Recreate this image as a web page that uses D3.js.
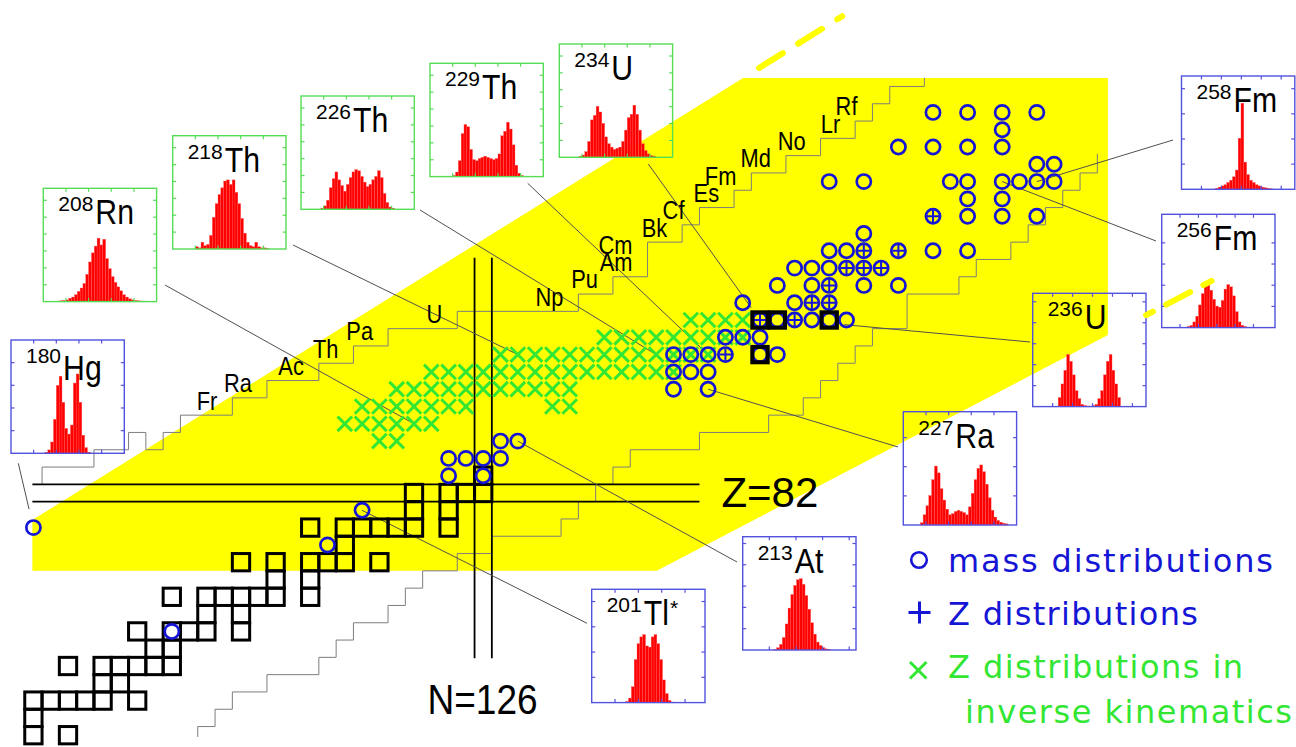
<!DOCTYPE html>
<html><head><meta charset="utf-8">
<script src="https://cdn.jsdelivr.net/npm/d3@7"></script>
<style>body{margin:0;background:#fff}svg{display:block}</style>
</head><body>
<svg id="c" width="1296" height="747"></svg>
<script>
// ================= DATA (N = neutron number, Z = proton number) =================
const stableNuclides = [
 [100,68],[102,68],[100,69],[100,70],[101,70],[102,70],[103,70],[104,70],[106,70],
 [104,71],[105,71],[102,72],[104,72],[105,72],[106,72],[107,72],[108,72],[107,73],[108,73],
 [106,74],[108,74],[109,74],[110,74],[112,74],[110,75],[112,75],
 [108,76],[110,76],[111,76],[112,76],[113,76],[114,76],[116,76],[114,77],[116,77],
 [112,78],[114,78],[116,78],[117,78],[118,78],[120,78],[118,79],
 [116,80],[118,80],[119,80],[120,80],[121,80],[122,80],[124,80],[122,81],[124,81],
 [122,82],[124,82],[125,82],[126,82],[126,83]
];
const longLivedActinides = [[142,92],[143,92],[146,92],[142,90]];
const massDistributions = [
 [100,80],[108,74],[117,79],[119,81],
 [124,83],[124,84],[125,84],[126,84],[126,83],[127,84],[127,85],[128,85],
 [137,88],[139,88],[137,89],[138,89],[139,89],
 [137,90],[138,90],[139,90],[140,90],[142,90],[143,90],
 [140,91],[141,91],[142,91],
 [142,92],[143,92],[144,92],[145,92],[146,92],[147,92],
 [141,93],[144,93],[145,93],[146,93],
 [143,94],[145,94],[146,94],[148,94],[150,94],
 [144,95],[145,95],[146,95],[147,95],[148,95],[149,95],
 [146,96],[147,96],[148,96],[150,96],[152,96],[154,96],
 [148,97],
 [152,98],[154,98],[156,98],[158,98],
 [154,99],[156,99],
 [146,100],[148,100],[153,100],[154,100],[156,100],[157,100],[158,100],[159,100],
 [158,101],[159,101],
 [150,102],[152,102],[154,102],[156,102],
 [156,103],
 [152,104],[154,104],[156,104],[158,104]
];
const zDistributions = [[140,90],[142,92],[144,92],[145,93],[146,93],[146,94],[147,95],[148,95],[149,95],[148,96],[150,96],[152,98]];
// inverse kinematics: [Z, [N ...]]
const inverseKinematicsRows = [
 [85,[120,121]],
 [86,[118,119,120,121,122,123]],
 [87,[119,120,121,122,123,124,125,130,131]],
 [88,[121,122,123,124,125,126,127,128,129,130,131]],
 [89,[123,124,125,126,127,128,129,130,131,132,133,134,135,136,137]],
 [90,[127,128,129,130,131,132,133,134,135,136,137,138,139]],
 [91,[133,134,135,136,137,138,139,140,141]],
 [92,[138,139,140,141]]
];
// limits of known nuclides (cell-edge coordinates)
const protonSideLimit = [[100.5,82.5],[100.5,83.5],[103.5,83.5],[103.5,84.5],[105.5,84.5],[105.5,85.5],[106.5,85.5],[106.5,84.5],[107.5,84.5],[107.5,85.5],[108.5,85.5],[108.5,86.5],[111.5,86.5],[111.5,87.5],[113.5,87.5],[113.5,88.5],[116.5,88.5],[116.5,89.5],[118.5,89.5],[118.5,90.5],[120.5,90.5],[120.5,91.5],[124.5,91.5],[124.5,92.5],[131.5,92.5],[131.5,93.5],[133.5,93.5],[133.5,94.5],[135.5,94.5],[135.5,96.5],[137.5,96.5],[137.5,97.5],[138.5,97.5],[138.5,98.5],[140.5,98.5],[140.5,99.5],[141.5,99.5],[141.5,100.5],[143.5,100.5],[143.5,101.5],[145.5,101.5],[145.5,102.5],[147.5,102.5],[147.5,103.5],[148.5,103.5],[148.5,104.5],[149.5,104.5],[149.5,105.5],[151.5,105.5],[151.5,106]];
const neutronSideLimit = [[109.5,67.9],[109.5,68.5],[110.5,68.5],[110.5,69.5],[111.5,69.5],[111.5,70.5],[113.5,70.5],[113.5,71.5],[116.5,71.5],[116.5,72.5],[117.5,72.5],[117.5,73.5],[118.5,73.5],[118.5,74.5],[120.5,74.5],[120.5,75.5],[121.5,75.5],[121.5,76.5],[122.5,76.5],[122.5,77.5],[124.5,77.5],[124.5,78.5],[126.5,78.5],[126.5,79.5],[130.5,79.5],[130.5,80.5],[131.5,80.5],[131.5,81.5],[132.5,81.5],[132.5,82.5],[133.5,82.5],[133.5,83.5],[134.5,83.5],[134.5,84.5],[138.5,84.5],[138.5,85.5],[142.5,85.5],[142.5,86.5],[144.5,86.5],[144.5,87.5],[145.5,87.5],[145.5,88.5],[146.5,88.5],[146.5,89.5],[147.5,89.5],[147.5,90.5],[148.5,90.5],[148.5,91.5],[150.5,91.5],[150.5,93.5],[153.5,93.5],[153.5,94.5],[154.5,94.5],[154.5,95.5],[156.5,95.5],[156.5,96.5],[157.5,96.5],[157.5,97.5],[158.5,97.5],[158.5,98.5],[159.5,98.5],[159.5,99.5],[160.5,99.5],[160.5,100.5],[161.5,100.5],[161.5,101.6]];
const elementSymbols = ["Fr","Ra","Ac","Th","Pa","U","Np","Pu","Am","Cm","Bk","Cf","Es","Fm","Md","No","Lr","Rf"];
const elementZ       = [87,88,89,90,91,92,93,94,95,96,97,98,99,100,101,102,103,104];
const lightestKnownN = [112,114,117,119,121,125,132,134,136,136,138,139,141,142,144,146,148,149];
// plane of the accessible region (N,Z corners) and its dashed continuation
const planeCorners = [[99.94,80.44],[141.02,105.99],[162.11,105.99],[162.11,91.13],[136.03,77.51],[99.94,77.51]];
const planeExtTop   = [[141.95,106.57],[146.75,109.56]];
const planeExtRight = [[164.32,92.28],[168.1,94.26]];
const magicZ = 82, magicN = 126;
// insets
const insetMass    = ["180","208","218","226","229","234","258","256","236","227","213","201"];
const insetSymbol  = ["Hg","Rn","Th","Th","Th","U","Fm","Fm","U","Ra","At","Tl"];
const insetSuffix  = ["","","","","","","","","","","","*"];
const insetTargetN = [100,122,128,136,139,142,158,156,144,139,128,119];
const insetTargetZ = [80,86,90,90,90,92,100,100,92,88,85,81];
const hist180Hg = [0,0,0,0,0,0,0,0,0,0,0,0,1,3,10,30,60,68,45,22,17,25,62,70,45,16,5,1,0,0,0,0,0,0,0,0,0,0,0,0];
const hist208Rn = [0,0,0,0,0,0.5,0.8,1,1.5,3,4,6,9,12,16,24,35,43,49,56,50,55,38,29,22,17,13,9.5,6,4,2.5,1.5,1,0.7,0.5,0.5,0.3,0,0,0];
const hist218Th = [0,0,0,0,0,0,0,0,2,1,6,3,4,12,28,40,48,54,60,61,57,61,50,40,27,14,6,3,2,6,2,1,1,0.5,0,0,0,0,0,0];
const hist226Th = [0,0,0,0,0,0,0,1,3,8,19,27,33,26,21,16,22,28,33,35,34,29,24,20,22,26,29,34,28,14,6,2,1,0,0,0,0,0,0,0];
const hist229Th = [0,0,0,0,0,0,0,0,1,4,14,38,46,44,24,15,14,16,17,18,17,16,15,16,20,36,40,48,42,28,10,3,1,0,0,0,0,0,0,0];
const hist234U  = [0,0,0,0,0,0,0,1,2,5,14,33,37,45,40,30,18,12,9,7,8,9,14,24,35,38,46,38,24,12,6,3,1.5,1,0,0,0,0,0,0];
const hist258Fm = [0,0,0,0,0,0,0,0,0,0,0,0,1,2,3,4,6,8,11,17,45,76,24,13,8,6,4,3,2,1.5,1,0.5,0,0,0,0,0,0,0,0];
const hist256Fm = [0,0,0,0,0,0,0,0,0,1,2,5,10,20,30,37,38,33,25,19,18,24,34,38,36,28,14,5,2,1,0,0,0,0,0,0,0,0,0,0];
const hist236U  = [0,0,0,0,0,0,0,0,0,8,20,32,46,40,28,14,7,2,1,0.5,0.5,1,2,7,14,28,40,46,32,20,8,0,0,0,0,0,0,0,0,0];
const hist227Ra = [0,0,0,0,0,0,2,9,17,26,40,52,46,32,22,14,9,10,12,13,12,11,9,16,28,40,50,53,47,36,24,13,7,4,2.5,1.5,1,0,0,0];
const hist213At = [0,0,0,0,0,0,0,0,0,0,0,0.5,2,5,11,23,37,49,57,62,63,58,48,36,24,14,7,4,2,1,0.5,0,0,0,0,0,0,0,0,0];
const hist201Tl = [0,0,0,0,0,0,0,0,0,0,0,0,1,4,14,38,52,58,60,50,49,58,60,52,38,20,8,2,0.5,0,0,0,0,0,0,0,0,0,0,0];
const insetHist = [hist180Hg,hist208Rn,hist218Th,hist226Th,hist229Th,hist234U,hist258Fm,hist256Fm,hist236U,hist227Ra,hist213At,hist201Tl];
const legendLabels = ["mass distributions","Z distributions","Z distributions in","inverse kinematics"];

// ================= LAYOUT / STYLE =================
const BLUE='#1515d5', GREEN='#33e633', YELLOW='#ffff00';
const FB='#5252dc', FG='#55dd55';
const S = 113.3;
const insetBox = [
 {x:11,    y:340,   c:FB, xs:.2,   ys:.2,   ny:4, dy:17, ax:18.3, ay:463.3, cut:19},
 {x:43.3,  y:188.3, c:FG, xs:.2,   ys:.149, ny:6, dy:13, ax:165,  ay:285,   cut:0},
 {x:172.7, y:135.7, c:FG, xs:.2,   ys:.149, ny:6, dy:13, ax:293,  ay:245,   cut:0},
 {x:301,   y:96,    c:FG, xs:.2,   ys:.149, ny:6, dy:13, ax:420,  ay:210,   cut:0},
 {x:430,   y:63.3,  c:FG, xs:.2,   ys:.149, ny:6, dy:13, ax:527.7,ay:183.3, cut:0},
 {x:559.3, y:44,    c:FG, xs:.2,   ys:.149, ny:6, dy:13, ax:648.3,ay:164,   cut:15},
 {x:1181.5,y:76,    c:FB, xs:.176, ys:.222, ny:4, dy:13, ax:1173, ay:140,   cut:0},
 {x:1161.7,y:214.3, c:FB, xs:.162, ys:.187, ny:4, dy:13, ax:1156, ay:241,   cut:0},
 {x:1032.7,y:293.3, c:FB, xs:.176, ys:.185, ny:5, dy:13, ax:1030, ay:342,   cut:50},
 {x:903.3, y:411.7, c:FB, xs:.2,   ys:.257, ny:3, dy:13, ax:898,  ay:447,   cut:0},
 {x:742.7, y:536.7, c:FB, xs:.235, ys:.188, ny:5, dy:13, ax:737,  ay:562,   cut:0},
 {x:591.7, y:589.3, c:FB, xs:.206, ys:.223, ny:4, dy:13, ax:587,  ay:623.3, cut:0}
];
const SANS = '"Liberation Sans",Arial,sans-serif';
const NARROW_SCALE = 0.84;

// ================= DRAW =================
const svg = d3.select('#c');
const x = d3.scaleLinear().domain([100,126]).range([33.4,483.2]);
const y = d3.scaleLinear().domain([80,82]).range([527.6,493]);
const cell = x(1)-x(0);
const lineNZ = d3.line().x(d=>x(d[0])).y(d=>y(d[1]));

// plane
svg.append('path').attr('d', lineNZ(planeCorners)+'Z').attr('fill',YELLOW);

// known-nuclide limits
[protonSideLimit, neutronSideLimit].forEach(p=>{
  svg.append('path').attr('d', lineNZ(p)).attr('fill','none').attr('stroke','#7d7d7d').attr('stroke-width',1);
});

// magic lines
const gm = svg.append('g').attr('stroke','#000').attr('stroke-width',1.8);
[magicZ-0.5, magicZ+0.5].forEach(z=>gm.append('line').attr('x1',x(99.94)).attr('x2',x(138.5)).attr('y1',y(z)).attr('y2',y(z)));
[magicN-0.5, magicN+0.5].forEach(n=>gm.append('line').attr('x1',x(n)).attr('x2',x(n)).attr('y1',y(95.6)).attr('y2',y(72.45)));

// connectors
insetBox.forEach((b,i)=>{
  const tx=x(insetTargetN[i]), ty=y(insetTargetZ[i]);
  const dx=tx-b.ax, dy=ty-b.ay, L=Math.hypot(dx,dy), k=(L-b.cut)/L;
  svg.append('line').attr('x1',b.ax).attr('y1',b.ay).attr('x2',b.ax+dx*k).attr('y2',b.ay+dy*k)
     .attr('stroke','#505050').attr('stroke-width',1);
});

// stable nuclides
svg.append('g').selectAll('rect').data(stableNuclides).join('rect')
  .attr('x',d=>x(d[0])-cell/2).attr('y',d=>y(d[1])-cell/2)
  .attr('width',cell).attr('height',cell)
  .attr('fill','none').attr('stroke','#000').attr('stroke-width',3);

// inverse kinematics crosses
const ik = inverseKinematicsRows.flatMap(r=>r[1].map(n=>[n,r[0]]));
const cr = 7.3;
svg.append('g').selectAll('path').data(ik).join('path')
  .attr('d',d=>{const cx=x(d[0]),cy=y(d[1]);return `M${cx-cr},${cy-cr}L${cx+cr},${cy+cr}M${cx-cr},${cy+cr}L${cx+cr},${cy-cr}`;})
  .attr('stroke',GREEN).attr('stroke-width',3).attr('fill','none');

// mass distributions
svg.append('g').selectAll('circle').data(massDistributions).join('circle')
  .attr('cx',d=>x(d[0])).attr('cy',d=>y(d[1])).attr('r',7.1)
  .attr('fill','none').attr('stroke',BLUE).attr('stroke-width',2.7);

// Z distributions
const pr = 6;
svg.append('g').selectAll('path').data(zDistributions).join('path')
  .attr('d',d=>{const cx=x(d[0]),cy=y(d[1]);return `M${cx-pr},${cy}L${cx+pr},${cy}M${cx},${cy-pr}L${cx},${cy+pr}`;})
  .attr('stroke',BLUE).attr('stroke-width',2).attr('fill','none');

// long-lived actinides
svg.append('g').selectAll('rect').data(longLivedActinides).join('rect')
  .attr('x',d=>x(d[0])-7.7).attr('y',d=>y(d[1])-7.7).attr('width',15.4).attr('height',15.4)
  .attr('fill','none').attr('stroke','#000').attr('stroke-width',4);

// element labels (condensed)
svg.append('g').selectAll('text').data(elementSymbols).join('text')
  .attr('transform',(d,i)=>`translate(${x(lightestKnownN[i]-0.5)-15},${y(elementZ[i])+3}) scale(${NARROW_SCALE},1)`)
  .attr('text-anchor','end').style('font-family',SANS).style('font-size','26px')
  .text(d=>d);

// magic labels
svg.append('text').attr('x',x(138.5)+22).attr('y',y(magicZ-0.5)+5.5)
  .style('font-family',SANS).style('font-size','42px').text('Z='+magicZ);
svg.append('text').attr('x',x(magicN-0.5)-47).attr('y',713.5)
  .style('font-family',SANS).style('font-size','42px').attr('textLength',110).attr('lengthAdjust','spacingAndGlyphs').text('N='+magicN);

// insets
insetBox.forEach((b,i)=>{
  const g = svg.append('g');
  const bx = d3.scaleBand().domain(d3.range(insetHist[i].length)).range([b.x,b.x+S]);
  const by = d3.scaleLinear().domain([0,100]).range([b.y+S,b.y]);
  g.selectAll('rect').data(insetHist[i]).join('rect')
    .attr('x',(d,j)=>bx(j)).attr('width',bx.bandwidth())
    .attr('y',d=>by(d)).attr('height',d=>by(0)-by(d))
    .attr('fill','#ff0000').attr('stroke','#ff5a5a').attr('stroke-width',0.35);
  g.append('rect').attr('x',b.x).attr('y',b.y).attr('width',S).attr('height',S)
    .attr('fill','none').attr('stroke',b.c).attr('stroke-width',1.4);
  const tl=3.5, tk=g.append('g').attr('stroke',b.c).attr('stroke-width',1.2);
  const nx=Math.floor(0.97/b.xs);
  for(let k=1;k<=nx;k++){const t=b.x+k*b.xs*S;
    tk.append('line').attr('x1',t).attr('x2',t).attr('y1',b.y).attr('y2',b.y+tl);
    tk.append('line').attr('x1',t).attr('x2',t).attr('y1',b.y+S).attr('y2',b.y+S-tl);}
  for(let k=1;k<=b.ny;k++){const t=b.y+S-k*b.ys*S;
    tk.append('line').attr('x1',b.x).attr('x2',b.x+tl).attr('y1',t).attr('y2',t);
    tk.append('line').attr('x1',b.x+S).attr('x2',b.x+S-tl).attr('y1',t).attr('y2',t);}
  const sup = g.append('text').attr('x',b.x+15).attr('y',b.y+23)
    .style('font-family',SANS).style('font-size','21px').text(insetMass[i]);
  const sw = sup.node().getComputedTextLength();
  const ex = b.x+15+sw+2, ey = b.y+23+b.dy;
  const el = g.append('text').attr('transform',`translate(${ex},${ey}) scale(${NARROW_SCALE},1)`)
    .style('font-family',SANS).style('font-size','36px').text(insetSymbol[i]);
  if(insetSuffix[i]){
    const ew = el.node().getComputedTextLength()*NARROW_SCALE;
    g.append('text').attr('x',ex+ew+1).attr('y',ey-10)
      .style('font-family',SANS).style('font-size','21px').text(insetSuffix[i]);
  }
});

// dashed continuation of the plane
[planeExtTop, planeExtRight].forEach((p,i)=>{
  svg.append('path').attr('d',lineNZ(p)).attr('stroke',YELLOW).attr('stroke-width',6)
    .attr('stroke-linecap','round').attr('fill','none')
    .attr('stroke-dasharray', i===0 ? '28 18' : '27 15')
    .attr('stroke-dashoffset', i===0 ? 0 : 19.4);
});

// legend
const lg = svg.append('g');
lg.append('circle').attr('cx',919).attr('cy',560).attr('r',7.8).attr('fill','none').attr('stroke',BLUE).attr('stroke-width',2.6);
lg.append('path').attr('d','M908.5,612.5L930.5,612.5M919.5,601.5L919.5,623.5').attr('stroke',BLUE).attr('stroke-width',3);
lg.append('path').attr('d','M910,662L926.5,678.5M910,678.5L926.5,662').attr('stroke',GREEN).attr('stroke-width',3);
const legX=[948,948,948,965], legY=[571.7,625,678.3,723.3], legL=[325,250,295,327], legC=[BLUE,BLUE,GREEN,GREEN];
legendLabels.forEach((t,i)=>{
  lg.append('text').attr('x',legX[i]).attr('y',legY[i]).attr('fill',legC[i])
    .style('font-family','"DejaVu Sans",sans-serif').style('font-size','32px')
    .attr('textLength',legL[i]).attr('lengthAdjust','spacing').text(t);
});
</script>
</body></html>
